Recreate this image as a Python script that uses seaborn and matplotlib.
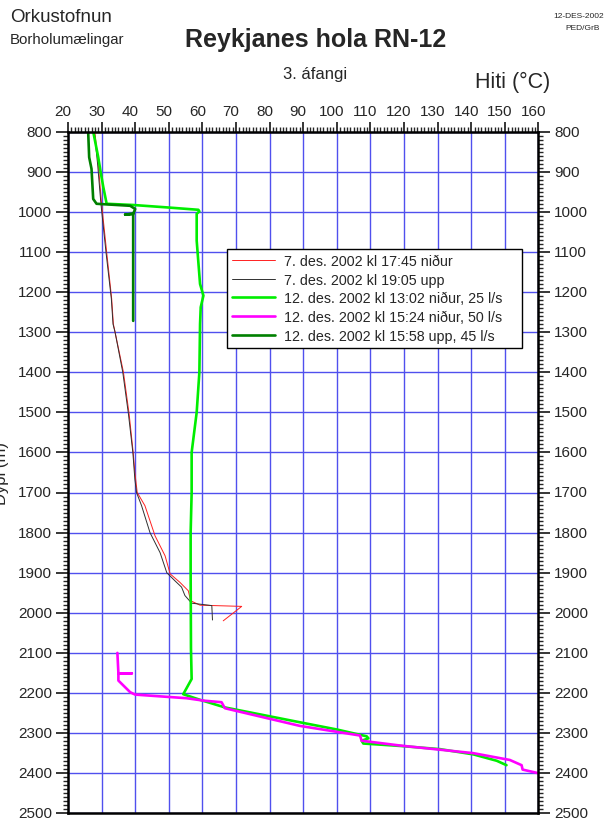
import matplotlib
matplotlib.use("Agg")
import matplotlib.pyplot as plt
from matplotlib.ticker import MultipleLocator
import matplotlib.transforms as mtransforms
import seaborn as sns
import pandas as pd

# ---- data (temperature °C, depth m) ----
red_T = [28.0, 29.0, 30.0, 31.5, 33.0, 33.5, 34.0, 36.5, 38.2, 39.4, 39.9, 40.6, 42.9, 45.9, 48.9, 50.4, 53.3, 55.8, 56.5, 59.3, 71.7, 66.2]
red_D = [800, 880, 980, 1100, 1217, 1280, 1300, 1400, 1505, 1600, 1650, 1700, 1733, 1808, 1858, 1903, 1924, 1945, 1970, 1981, 1984, 2020]

black_T = [27.8, 28.8, 29.8, 31.3, 32.9, 33.4, 34.0, 36.3, 38.0, 39.3, 39.9, 40.4, 41.9, 44.4, 47.4, 49.4, 51.8, 53.8, 54.8, 56.8, 62.8, 63.0]
black_D = [800, 880, 980, 1100, 1217, 1280, 1300, 1400, 1505, 1600, 1667, 1700, 1733, 1800, 1850, 1900, 1920, 1936, 1957, 1976, 1982, 2018]

g25_T = [27.5, 29.0, 29.7, 30.5, 31.5, 39.4, 49.4, 58.8, 59.1, 58.3, 58.3, 59.3, 60.3, 59.5, 59.3, 59.1, 58.3, 56.8, 56.8, 56.5, 56.5, 56.6, 56.8, 54.3, 59.3, 66.7, 89.0, 100.0, 108.9, 109.4, 107.4, 107.9, 118.8, 130.7, 140.6, 147.6, 150.5]
g25_D = [800, 864, 900, 938, 980, 983, 989, 995, 999, 1005, 1072, 1180, 1209, 1238, 1280, 1400, 1500, 1600, 1700, 1800, 1900, 2090, 2165, 2203, 2217, 2236, 2273, 2291, 2308, 2313, 2319, 2326, 2332, 2340, 2353, 2369, 2380]

m50_T = [34.7, 35.0, 39.0, 35.0, 35.0, 38.5, 40.0, 55.3, 60.3, 65.7, 66.7, 89.0, 106.9, 107.4, 118.8, 140.6, 151.5, 155.0, 155.3, 160.0]
m50_D = [2100, 2151, 2151, 2151, 2169, 2198, 2204, 2213, 2219, 2223, 2238, 2282, 2306, 2319, 2331, 2350, 2367, 2380, 2391, 2400]

g45_T = [26.0, 26.3, 27.0, 27.5, 28.5, 38.5, 40.0, 39.4, 37.0, 39.4, 39.4]
g45_D = [800, 864, 893, 968, 980, 985, 993, 1005, 1007, 1005, 1272]

labels = ["7. des. 2002 kl 17:45 niður",
          "7. des. 2002 kl 19:05 upp",
          "12. des. 2002 kl 13:02 niður, 25 l/s",
          "12. des. 2002 kl 15:24 niður, 50 l/s",
          "12. des. 2002 kl 15:58 upp, 45 l/s"]

x_ticks = list(range(20, 161, 10))
y_ticks = list(range(800, 2501, 100))

series = [(red_T, red_D, "#ff2020", 0.7),
          (black_T, black_D, "#303030", 0.7),
          (g25_T, g25_D, "#00ee00", 1.9),
          (m50_T, m50_D, "#ff00ff", 1.9),
          (g45_T, g45_D, "#008000", 1.9)]

sns.set_theme(style="white")
plt.rcParams["font.family"] = ["Liberation Sans", "DejaVu Sans"]

fig = plt.figure(figsize=(6.08, 8.2), dpi=100)
ax = fig.add_axes([68 / 608, 1 - 814.3 / 820, 470.4 / 608, 681.7 / 820])

for (T, D, c, lw), lab in zip(series, labels):
    df = pd.DataFrame({"T": T, "D": D})
    sns.lineplot(data=df, x="T", y="D", sort=False, estimator=None,
                 color=c, lw=lw, label=lab, ax=ax)

ax.set_xlim(20, 160)
ax.set_ylim(2500, 800)
ax.set_xticks(x_ticks)
ax.set_yticks(y_ticks)
ax.xaxis.set_minor_locator(MultipleLocator(1))
ax.yaxis.set_minor_locator(MultipleLocator(10))
ax.grid(True, which="major", color="#5050ee", lw=1.0)
ax.set_axisbelow(True)
ax.set_xlabel("")
ax.set_ylabel("")

ax.xaxis.tick_top()
ax.tick_params(axis="x", which="both", top=True, bottom=False,
               labeltop=True, labelbottom=False, direction="out")
ax.tick_params(axis="y", which="both", left=True, right=True,
               labelleft=True, labelright=True, direction="out")
ax.tick_params(axis="x", which="major", length=7.5, width=1.3, labelsize=11, pad=2)
ax.tick_params(axis="y", which="major", length=8.5, width=1.3, labelsize=11, pad=3)
ax.tick_params(which="minor", length=3.8, width=1.0)
for s in ax.spines.values():
    s.set_visible(True)
    s.set_color("black")
    s.set_linewidth(1.8)

shift_x = mtransforms.ScaledTranslation(-5 / 100, 0, fig.dpi_scale_trans)
for t in ax.xaxis.get_major_ticks():
    t.label2.set_transform(t.label2.get_transform() + shift_x)
shift_y = mtransforms.ScaledTranslation(0, 1.5 / 100, fig.dpi_scale_trans)
for t in ax.yaxis.get_major_ticks():
    t.label1.set_transform(t.label1.get_transform() + shift_y)
    t.label2.set_transform(t.label2.get_transform() + shift_y)

x0 = (227 - 68) / 470.4
w = (522 - 227) / 470.4
ytop = 1 - (250 - 132.6) / 681.7
h = 97 / 681.7
leg = ax.legend(loc="upper left", bbox_to_anchor=(x0, ytop - h, w, h), mode="expand",
                fontsize=10.3, frameon=True, fancybox=False, framealpha=1,
                edgecolor="black", handlelength=3.0, borderpad=0.35,
                labelspacing=0.33, handletextpad=0.6, borderaxespad=0)
leg.get_frame().set_linewidth(1.0)

fig.text(10 / 608, 1 - 18 / 820, "Orkustofnun", fontsize=13.5, ha="left", va="center")
fig.text(10 / 608, 1 - 40 / 820, "Borholumælingar", fontsize=10.8, ha="left", va="center")
fig.text(316 / 608, 1 - 40 / 820, "Reykjanes hola RN-12", fontsize=18,
         fontweight="bold", ha="center", va="center")
fig.text(604 / 608, 1 - 17 / 820, "12-DES-2002", fontsize=6, ha="right", va="center")
fig.text(600 / 608, 1 - 29 / 820, "PED/GrB", fontsize=6, ha="right", va="center")
fig.text(315 / 608, 1 - 75 / 820, "3. áfangi", fontsize=12, ha="center", va="center")
fig.text(513 / 608, 1 - 82 / 820, "Hiti (°C)", fontsize=15.5, ha="center", va="center")
fig.text(2 / 608, 1 - 474 / 820, "Dýpi (m)", fontsize=12, rotation=90,
         ha="center", va="center")

fig.savefig("out.png", dpi=100)
